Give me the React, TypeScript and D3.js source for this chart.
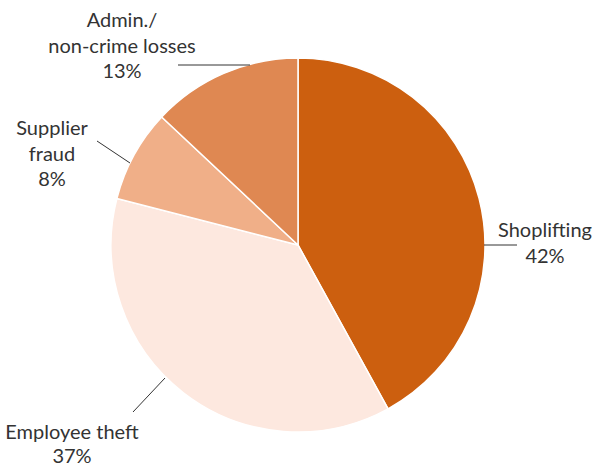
import React from "react";
import * as d3 from "d3";

const categories = ["Shoplifting", "Employee theft", "Supplier fraud", "Admin./non-crime losses"];
const values = [42, 37, 8, 13];
const colors = ["#CC5F0F", "#FDE8DF", "#F0AF88", "#DF8852"];
const labelLines = [["Shoplifting", "42%"], ["Employee theft", "37%"], ["Supplier", "fraud", "8%"], ["Admin./", "non-crime losses", "13%"]];

const W = 595, H = 467;
const cx = 298, cy = 245, R = 187;

// label layout: text center x, first baseline y, leader outer end, leader inner end
const labelPos = [
  { x: 545, y: 237, lx: 517, ly: 245, ex: 484, ey: 245 },
  { x: 72, y: 439, lx: 133, ly: 412, ex: 165, ey: 378 },
  { x: 52, y: 135, lx: 97, ly: 141, ex: 130, ey: 163 },
  { x: 122, y: 27, lx: 178, ly: 65, ex: 250, ey: 65 },
];

export default function App() {
  const pie = d3.pie<number>().sort(null).value((d) => d)(values);
  const arc = d3.arc<d3.PieArcDatum<number>>().innerRadius(0).outerRadius(R);
  const font = "Lato, 'Open Sans', sans-serif";
  const lineH = 25.5;
  return (
    <svg width={W} height={H} style={{ position: "absolute", left: 0, top: 0 }}>
      <g transform={`translate(${cx},${cy})`}>
        {pie.map((p, i) => (
          <path key={categories[i]} d={arc(p) as string} fill={colors[i]} stroke="#fff" strokeWidth={1.5} />
        ))}
      </g>
      {pie.map((p, i) => {
        const lp = labelPos[i];
        return (
          <g key={"l" + i}>
            <line x1={lp.lx} y1={lp.ly} x2={lp.ex} y2={lp.ey} stroke="#333" strokeWidth={1} />
            <text x={lp.x} y={lp.y} textAnchor="middle" fontFamily={font} fontSize={20} fill="#333">
              {labelLines[i].map((t, j) => (
                <tspan key={j} x={lp.x} dy={j === 0 ? 0 : j === 1 && i === 1 ? 24 : lineH}>{t}</tspan>
              ))}
            </text>
          </g>
        );
      })}
    </svg>
  );
}
